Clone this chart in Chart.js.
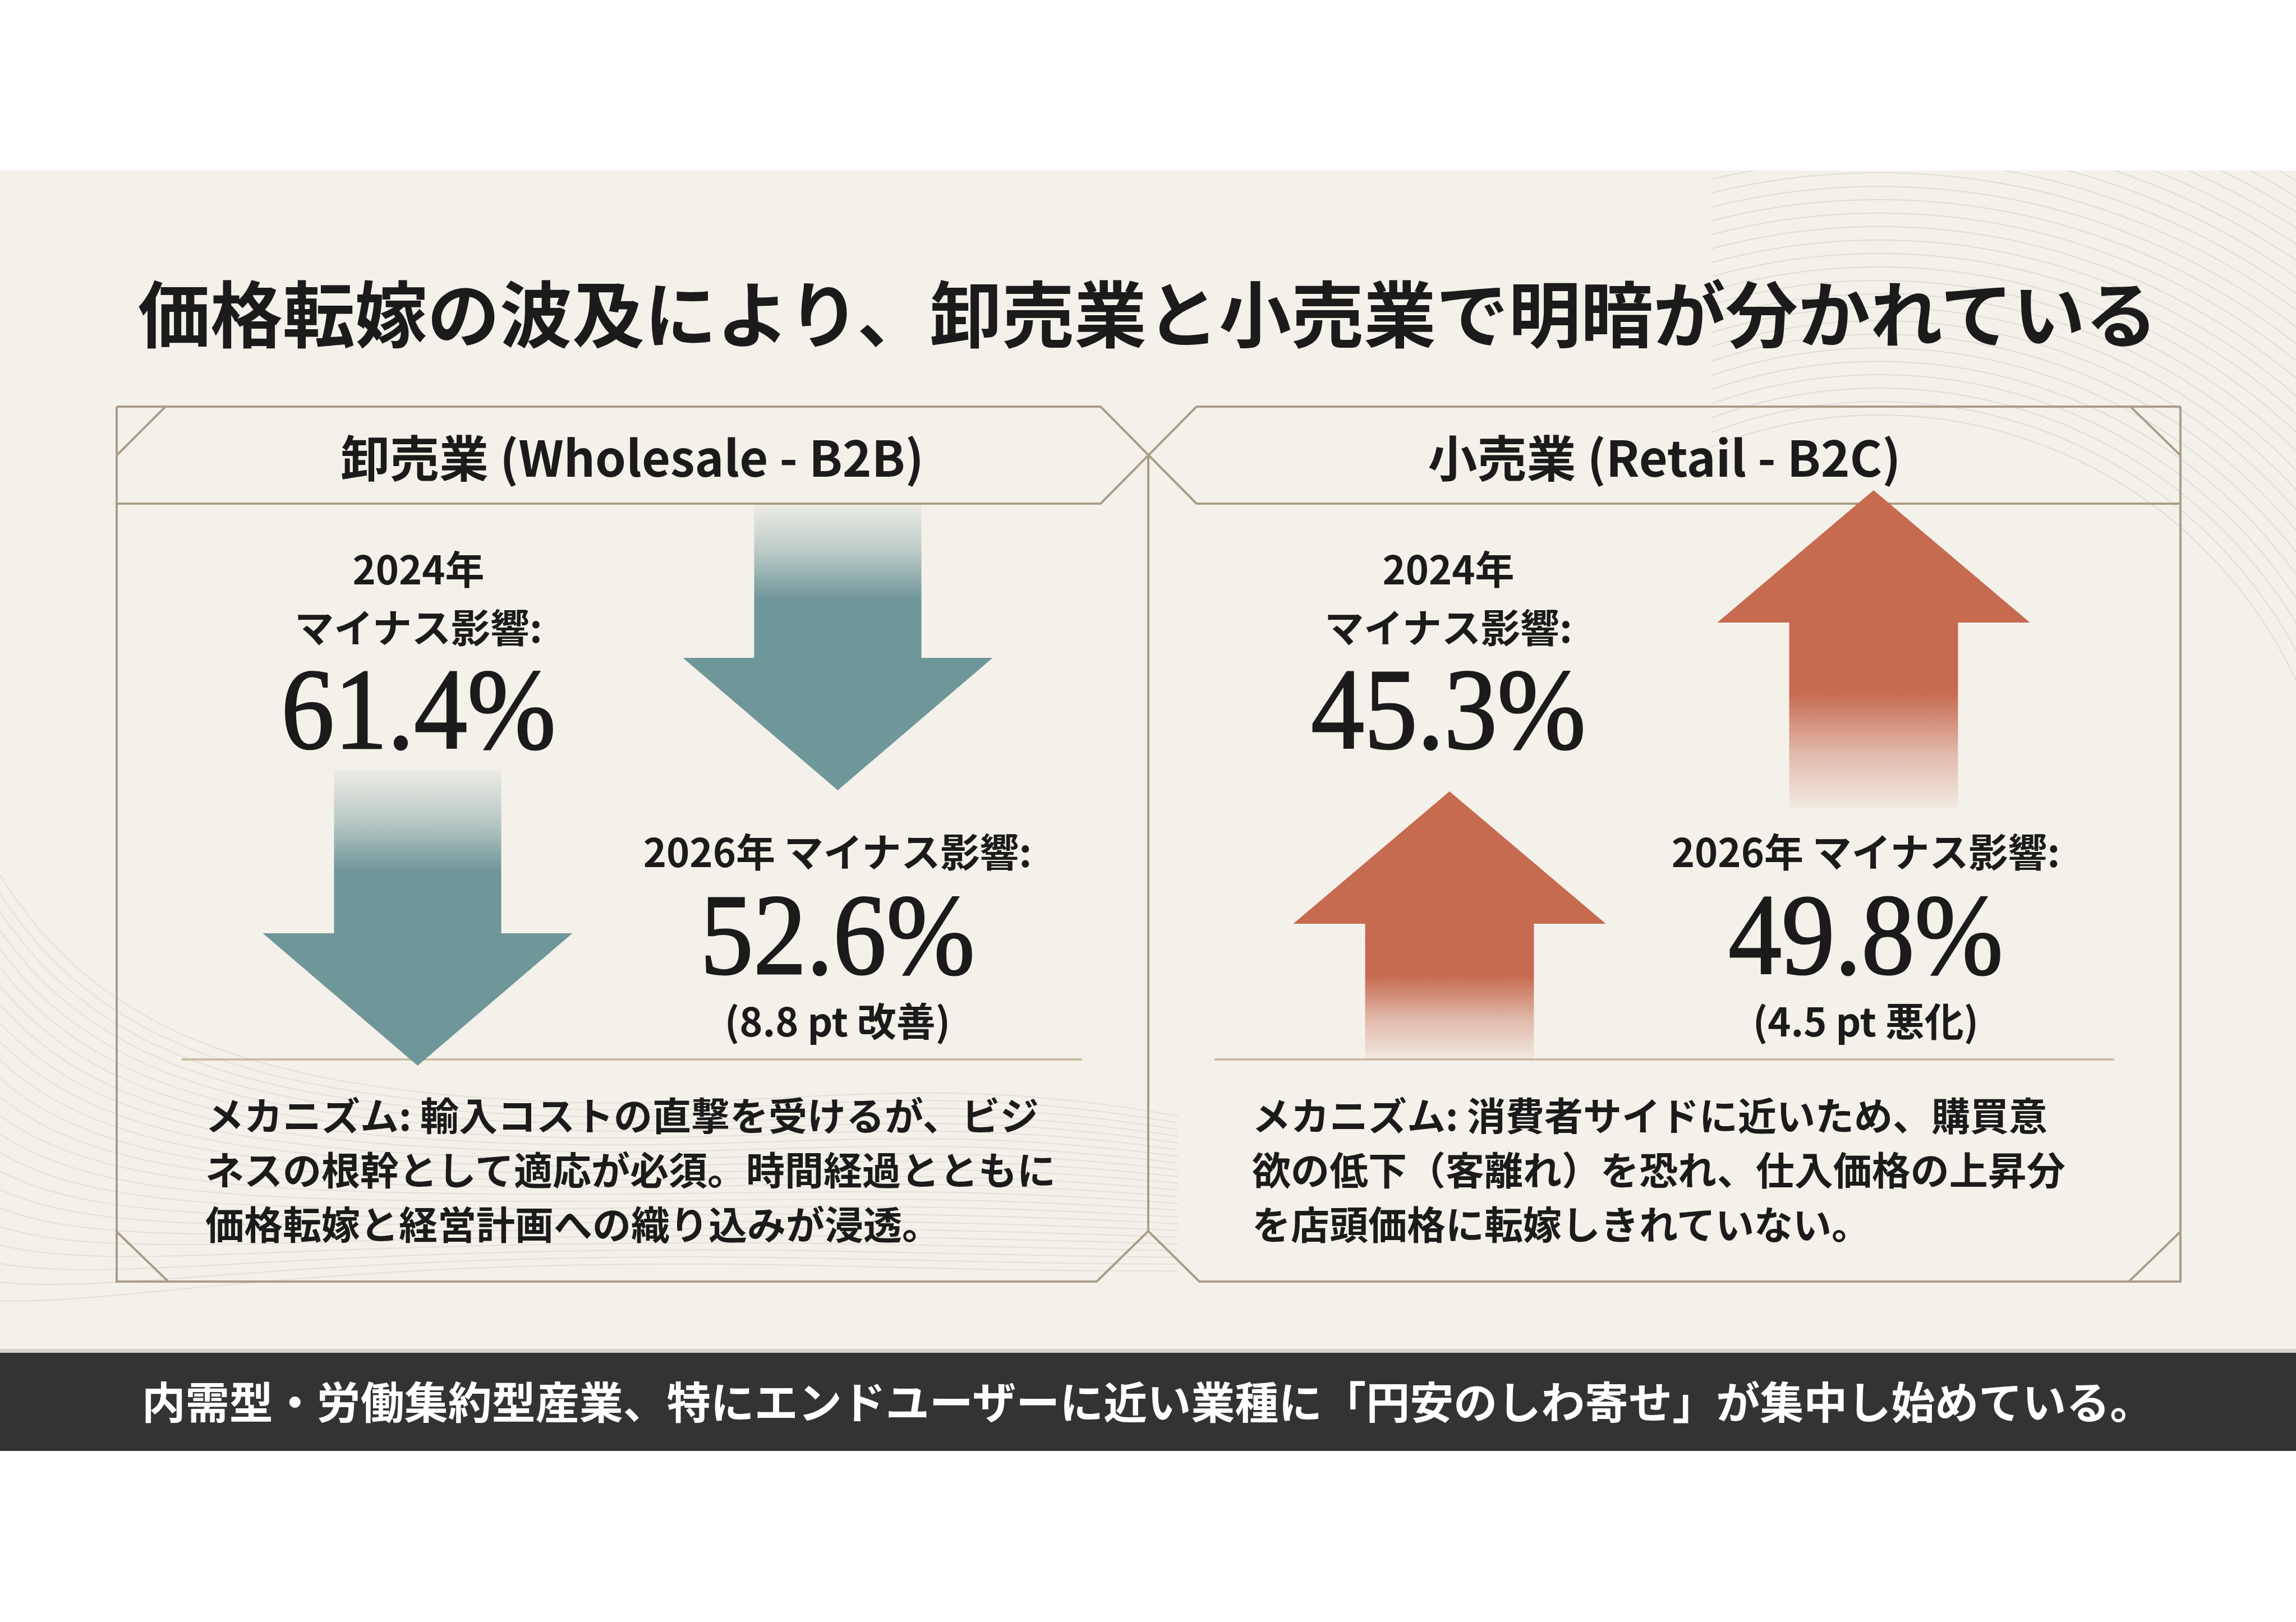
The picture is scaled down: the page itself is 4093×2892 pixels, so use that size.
<!DOCTYPE html>
<html lang="ja">
<head>
<meta charset="UTF-8">
<title>価格転嫁の波及により、卸売業と小売業で明暗が分かれている</title>
<script src="https://cdn.jsdelivr.net/npm/chart.js@4.4.1/dist/chart.umd.min.js"></script>
<style>
  html, body { margin: 0; padding: 0; background: #ffffff; }
  body {
    width: 4093px; height: 2892px; position: relative; overflow: hidden;
    font-family: "Noto Sans CJK JP", "Noto Sans", sans-serif; color: #1b1b1b;
  }
  #paper { position: absolute; left: 0; top: 304px; width: 4093px; height: 2108px; background: #f4f1ea; }
  #deco { position: absolute; left: 0; top: 0; }
  canvas { position: absolute; }
  .t { position: absolute; white-space: nowrap; line-height: 1; transform: translate(-50%, -50%); }
  .title { font-size: 129px; font-weight: 700; }
  .head { font-size: 88px; font-weight: 700; }
  .lbl { font-size: 70px; font-weight: 700; }
  .big {
    font-family: "Liberation Serif", "DejaVu Serif", serif; font-size: 206px;
    -webkit-text-stroke: 3px #1b1b1b;
    transform: translate(-50%, -50%) scaleX(0.92);
  }
  .mech { position: absolute; font-size: 69px; font-weight: 700; line-height: 97px; white-space: nowrap; }
  #stripe { position: absolute; left: 0; top: 2405px; width: 4093px; height: 8px; background: #d6d3cc; }
  #banner { position: absolute; left: 0; top: 2412px; width: 4093px; height: 175px; background: #333333; }
  .foot { font-size: 78px; font-weight: 700; color: #ffffff; }
</style>
</head>
<body>
<div id="paper"></div>
<svg id="deco" width="4093" height="2892" xmlns="http://www.w3.org/2000/svg"></svg>
<div id="stripe"></div>
<div id="banner"></div>
<canvas id="leftChart" width="1498" height="1060" style="left:370px; top:860px;"></canvas>
<canvas id="rightChart" width="1512" height="1060" style="left:2206px; top:860px;"></canvas>

<script>
// データ
const title = '価格転嫁の波及により、卸売業と小売業で明暗が分かれている';
const sectors = ['卸売業 (Wholesale - B2B)', '小売業 (Retail - B2C)'];
const years = ['2024年', '2026年'];
const wholesale = [61.4, 52.6];   // マイナス影響 (%)
const retail = [45.3, 49.8];      // マイナス影響 (%)
const mechanisms = [
  ['メカニズム: 輸入コストの直撃を受けるが、ビジ', 'ネスの根幹として適応が必須。時間経過とともに', '価格転嫁と経営計画への織り込みが浸透。'],
  ['メカニズム: 消費者サイドに近いため、購買意', '欲の低下（客離れ）を恐れ、仕入価格の上昇分', 'を店頭価格に転嫁しきれていない。']
];
const footer = '内需型・労働集約型産業、特にエンドユーザーに近い業種に「円安のしわ寄せ」が集中し始めている。';

// テキスト配置
function place(text, cls, cx, cy) {
  const d = document.createElement('div');
  d.className = 't ' + cls;
  d.textContent = text;
  d.style.left = cx + 'px';
  d.style.top = cy + 'px';
  document.body.appendChild(d);
  return d;
}

function panelText(name, values, hx, cols, mech, mx) {
  place(name, 'head', hx, 812);
  const delta = values[1] - values[0];
  const word = delta < 0 ? '改善' : '悪化';
  // 2024年
  place(years[0], 'lbl', cols[0], 1012);
  place('マイナス影響:', 'lbl', cols[0], 1116);
  place(values[0].toFixed(1) + '%', 'big', cols[0], 1265);
  // 2026年
  place(years[1] + ' マイナス影響:', 'lbl', cols[1], 1516);
  place(values[1].toFixed(1) + '%', 'big', cols[1], 1667);
  place('(' + Math.abs(delta).toFixed(1) + ' pt ' + word + ')', 'lbl', cols[1], 1818);
  const m = document.createElement('div');
  m.className = 'mech';
  m.style.left = mx + 'px';
  m.style.top = '1938px';
  m.innerHTML = mech.join('<br>');
  document.body.appendChild(m);
}

place(title, 'title', 2046, 553);
panelText(sectors[0], wholesale, 1127, [746, 1493], mechanisms[0], 366);
panelText(sectors[1], retail, 2967, [2582, 3326], mechanisms[1], 2232);
place(footer, 'foot', 2046, 2496);

// 枠と背景の装飾線
const svg = document.getElementById('deco');
const NS = 'http://www.w3.org/2000/svg';
function path(d, stroke, width, opacity, parent) {
  const p = document.createElementNS(NS, 'path');
  p.setAttribute('d', d);
  p.setAttribute('fill', 'none');
  p.setAttribute('stroke', stroke);
  p.setAttribute('stroke-width', width);
  if (opacity) p.setAttribute('stroke-opacity', opacity);
  (parent || svg).appendChild(p);
}
const defs = document.createElementNS(NS, 'defs');
defs.innerHTML = '<clipPath id="cr"><rect x="3050" y="304" width="1043" height="980"/></clipPath>' +
  '<clipPath id="cl"><rect x="0" y="1450" width="2100" height="955"/></clipPath>';
svg.appendChild(defs);
const gR = document.createElementNS(NS, 'g');
gR.setAttribute('clip-path', 'url(#cr)');
svg.appendChild(gR);
for (let r = 820; r <= 1480; r += 24) {
  path('M ' + (3350 - r) + ' 1560 A ' + r + ' ' + r + ' 0 0 1 ' + (3350 + r) + ' 1560', '#8f8f8f', 2, 0.2, gR);
}
const gL = document.createElementNS(NS, 'g');
gL.setAttribute('clip-path', 'url(#cl)');
svg.appendChild(gL);
for (let i = 0; i < 24; i++) {
  const y0 = 1560 + i * 33, y1 = 1820 + i * 22, y2 = 1930 + i * 15, y3 = 1960 + i * 13;
  path('M 0 ' + y0 + ' C 160 ' + y1 + ', 420 ' + y2 + ', 900 ' + y3 + ' S 1600 ' + (1900 + i * 16) + ', 2100 ' + (1990 + i * 12),
    '#8f8f8f', 2, 0.16, gL);
}
const frame = '#a99e88';
[
  'M 208 725 L 1962 725 L 2133 898', 'M 2133 725 L 3887 725',
  'M 208 898 L 1962 898 L 2133 725', 'M 2133 898 L 3887 898',
  'M 208 725 L 208 2285 L 1955 2285 L 2047 2195 L 2138 2285 L 3887 2285 L 3887 725',
  'M 2047 812 L 2047 2195',
  'M 295 725 L 208 812', 'M 3798 725 L 3887 812',
  'M 208 2196 L 300 2285', 'M 3887 2196 L 3795 2285'
].forEach(d => path(d, frame, 4));
path('M 324 1889 L 1929 1889', '#c9bda5', 4);
path('M 2165 1889 L 3769 1889', '#c9bda5', 4);

// 矢印 (変化の向きで上下と色を決める)
const arrowPlugin = {
  id: 'arrows',
  afterDatasetsDraw(chart, args, opts) {
    const { ctx, scales } = chart;
    const x = scales.x, y = scales.y;
    const vals = chart.data.datasets[0].data;
    const up = vals[1] > vals[0];
    const rgb = up ? opts.upColor : opts.downColor;
    const cat = x.width / vals.length;
    const sw = cat * opts.shaft, hw = cat * opts.head;
    opts.spans.forEach((s, i) => {
      const cx = x.getPixelForValue(i);
      const tail = y.getPixelForValue(s[0]);
      const tip = y.getPixelForValue(s[1]);
      const dir = Math.sign(tip - tail);
      const base = tip - dir * opts.headHeight;
      const g = ctx.createLinearGradient(0, tail, 0, base);
      g.addColorStop(0, 'rgba(' + rgb + ',0.05)');
      g.addColorStop(0.3, 'rgba(' + rgb + ',0.42)');
      g.addColorStop(0.62, 'rgba(' + rgb + ',1)');
      g.addColorStop(1, 'rgba(' + rgb + ',1)');
      ctx.save();
      ctx.beginPath();
      ctx.moveTo(cx - sw / 2, tail);
      ctx.lineTo(cx - sw / 2, base);
      ctx.lineTo(cx - hw / 2, base);
      ctx.lineTo(cx, tip);
      ctx.lineTo(cx + hw / 2, base);
      ctx.lineTo(cx + sw / 2, base);
      ctx.lineTo(cx + sw / 2, tail);
      ctx.closePath();
      ctx.fillStyle = g;
      ctx.fill();
      ctx.restore();
    });
  }
};

function makeChart(id, values, spans) {
  return new Chart(document.getElementById(id), {
    type: 'bar',
    data: {
      labels: years,
      datasets: [{ data: values, yAxisID: 'v', backgroundColor: 'rgba(0,0,0,0)', borderWidth: 0 }]
    },
    options: {
      responsive: false,
      animation: false,
      devicePixelRatio: 1,
      layout: { padding: 0 },
      plugins: {
        legend: { display: false },
        tooltip: { enabled: false },
        arrows: {
          spans: spans, shaft: 0.398, head: 0.737, headHeight: 236,
          downColor: '111,150,152', upColor: '198,106,80'
        }
      },
      scales: {
        x: { display: false, offset: true },
        y: { display: false, min: 860, max: 1920, reverse: true },
        v: { display: false, min: 0, max: 100 }
      }
    },
    plugins: [arrowPlugin]
  });
}

makeChart('leftChart', wholesale, [[1372, 1900], [900, 1409]]);
makeChart('rightChart', retail, [[1890, 1411], [1440, 874]]);
</script>
</body>
</html>
